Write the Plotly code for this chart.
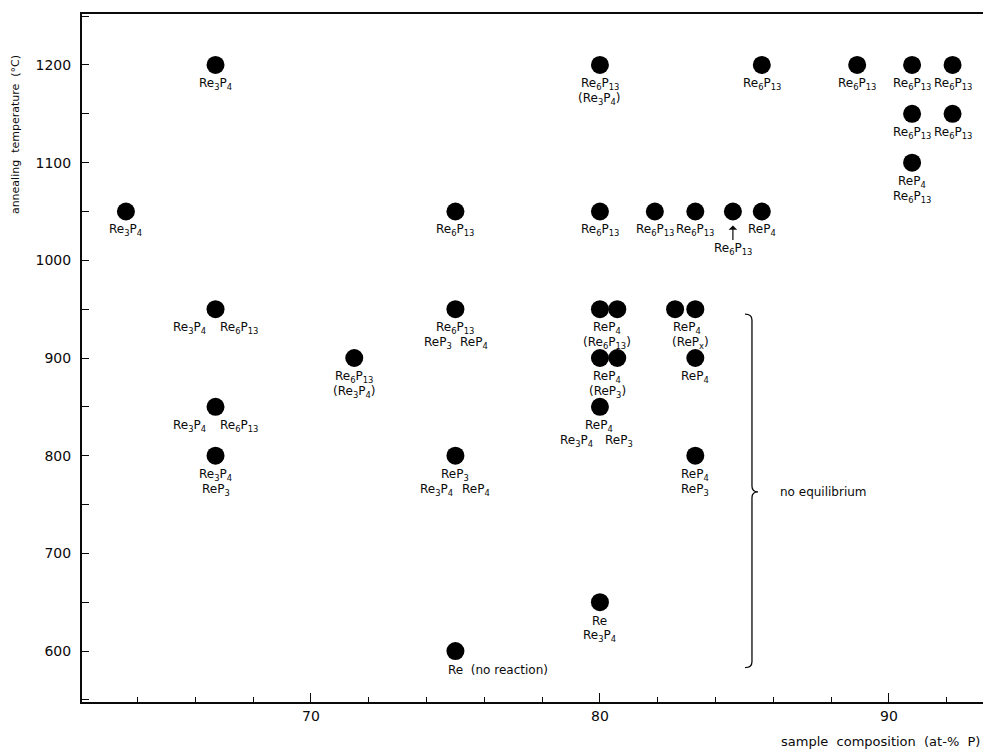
import plotly.graph_objects as go

RE3P4 = "Re<sub>3</sub>P<sub>4</sub>"
RE6P13 = "Re<sub>6</sub>P<sub>13</sub>"
REP3 = "ReP<sub>3</sub>"
REP4 = "ReP<sub>4</sub>"
REPX = "ReP<sub>x</sub>"

# sample composition (at-% P) and annealing temperature (°C)
comp = [63.6, 66.7, 66.7, 66.7, 66.7, 71.5, 75.0, 75.0, 75.0, 75.0,
        80.0, 80.0, 80.0, 80.6, 80.0, 80.6, 80.0, 80.0, 81.9, 82.6,
        83.3, 83.3, 83.3, 83.3, 84.6, 85.6, 85.6, 88.9, 90.8, 92.2,
        90.8, 92.2, 90.8]
temp = [1050, 1200, 950, 850, 800, 900, 1050, 950, 800, 600,
        1200, 1050, 950, 950, 900, 900, 850, 650, 1050, 950,
        950, 900, 800, 1050, 1050, 1050, 1200, 1200, 1200, 1200,
        1150, 1150, 1100]

# phase labels: (label centre composition, temperature of point, line, text)
labels = [
    (63.6, 1050, 0, RE3P4),
    (66.7, 1200, 0, RE3P4),
    (65.8, 950, 0, RE3P4), (67.5, 950, 0, RE6P13),
    (65.8, 850, 0, RE3P4), (67.5, 850, 0, RE6P13),
    (66.7, 800, 0, RE3P4), (66.7, 800, 1, REP3),
    (71.5, 900, 0, RE6P13), (71.5, 900, 1, "(" + RE3P4 + ")"),
    (75.0, 1050, 0, RE6P13),
    (75.0, 950, 0, RE6P13), (74.4, 950, 1, REP3), (75.65, 950, 1, REP4),
    (75.0, 800, 0, REP3), (74.35, 800, 1, RE3P4), (75.7, 800, 1, REP4),
    (80.0, 1200, 0, RE6P13), (80.0, 1200, 1, "(" + RE3P4 + ")"),
    (80.0, 1050, 0, RE6P13),
    (80.25, 950, 0, REP4), (80.25, 950, 1, "(" + RE6P13 + ")"),
    (80.25, 900, 0, REP4), (80.25, 900, 1, "(" + REP3 + ")"),
    (79.95, 850, 0, REP4), (79.2, 850, 1, RE3P4), (80.65, 850, 1, REP3),
    (80.0, 650, 0, "Re"), (80.0, 650, 1, RE3P4),
    (81.9, 1050, 0, RE6P13),
    (83.3, 1050, 0, RE6P13),
    (83.0, 950, 0, REP4), (83.15, 950, 1, "(" + REPX + ")"),
    (83.3, 900, 0, REP4),
    (83.3, 800, 0, REP4), (83.3, 800, 1, REP3),
    (85.6, 1050, 0, REP4),
    (85.6, 1200, 0, RE6P13),
    (88.9, 1200, 0, RE6P13),
    (90.8, 1200, 0, RE6P13), (92.2, 1200, 0, RE6P13),
    (90.8, 1150, 0, RE6P13), (92.2, 1150, 0, RE6P13),
    (90.8, 1100, 0, REP4), (90.8, 1100, 1, RE6P13),
]

arrow_label = (84.6, 1050, RE6P13)
no_reaction = (75.0, 600, "Re  (no reaction)")

# "no equilibrium" brace
brace_x = 85.26
brace_top = 945
brace_mid = 763
brace_bottom = 583
brace_text = "no equilibrium"

x_ticks = [70, 80, 90]
y_ticks = [600, 700, 800, 900, 1000, 1100, 1200]

FONT = "DejaVu Sans"
INK = "#0a0a0a"

fig = go.Figure()
fig.add_trace(go.Scatter(
    x=comp, y=temp, mode="markers",
    marker=dict(size=18, color="black", line=dict(width=0)),
    hoverinfo="skip", showlegend=False,
))

ann = []
for x, t, line, txt in labels:
    ann.append(dict(x=x, y=t, text=txt, showarrow=False,
                    xanchor="center", yanchor="middle",
                    yshift=-(19 + 15 * line),
                    font=dict(family=FONT, size=12, color=INK)))

ann.append(dict(x=arrow_label[0], y=arrow_label[1], text=arrow_label[2],
                showarrow=True, ax=0, ay=38, arrowhead=1, arrowsize=1.2,
                arrowwidth=1.2, arrowcolor=INK, standoff=14,
                font=dict(family=FONT, size=12, color=INK)))

ann.append(dict(x=no_reaction[0], y=no_reaction[1], text=no_reaction[2],
                showarrow=False, xanchor="left", yanchor="middle",
                xshift=-9, yshift=-19,
                font=dict(family=FONT, size=12, color=INK)))

ann.append(dict(x=brace_x + 0.9, y=brace_mid, text=brace_text,
                showarrow=False, xanchor="left", yanchor="middle",
                font=dict(family=FONT, size=12, color=INK)))

ann.append(dict(xref="paper", yref="paper", x=0.99, y=-0.058,
                text="sample  composition  (at-%  P)", showarrow=False,
                xanchor="right", yanchor="middle",
                font=dict(family=FONT, size=13, color=INK)))

ann.append(dict(xref="paper", yref="paper", x=-0.0737, y=0.824,
                text="annealing  temperature  (°C)", showarrow=False,
                textangle=-90, xanchor="center", yanchor="middle",
                font=dict(family=FONT, size=11, color=INK)))

hw = 0.24  # brace hook width
tip = 0.21
path = (f"M {brace_x - hw},{brace_top} Q {brace_x},{brace_top} {brace_x},{brace_top - 6} "
        f"L {brace_x},{brace_mid + 6} Q {brace_x},{brace_mid} {brace_x + tip},{brace_mid} "
        f"Q {brace_x},{brace_mid} {brace_x},{brace_mid - 6} "
        f"L {brace_x},{brace_bottom + 6} Q {brace_x},{brace_bottom} {brace_x - hw},{brace_bottom}")

fig.update_layout(
    width=983, height=743,
    margin=dict(l=74, r=0, t=6, b=49),
    paper_bgcolor="white", plot_bgcolor="white",
    annotations=ann,
    shapes=[dict(type="path", path=path, xref="x", yref="y",
                 line=dict(color=INK, width=1.3))],
    xaxis=dict(range=[62.08, 93.53], tickvals=x_ticks, ticks="inside",
               ticklen=9, tickwidth=1.3, tickcolor=INK,
               minor=dict(dtick=2, tick0=62, ticks="inside", ticklen=5,
                          tickwidth=1, tickcolor=INK),
               showline=True, linecolor=INK, linewidth=2, mirror=True,
               showgrid=False, zeroline=False,
               tickfont=dict(family=FONT, size=14, color=INK)),
    yaxis=dict(range=[547.8, 1252.2], tickvals=y_ticks, ticks="inside",
               ticklen=7, tickwidth=1.3, tickcolor=INK,
               minor=dict(dtick=50, tick0=550, ticks="inside", ticklen=7,
                          tickwidth=1.3, tickcolor=INK),
               showline=True, linecolor=INK, linewidth=2,
               showgrid=False, zeroline=False, ticklabelstandoff=6,
               tickfont=dict(family=FONT, size=14, color=INK)),
)

fig.write_html("out.html")
